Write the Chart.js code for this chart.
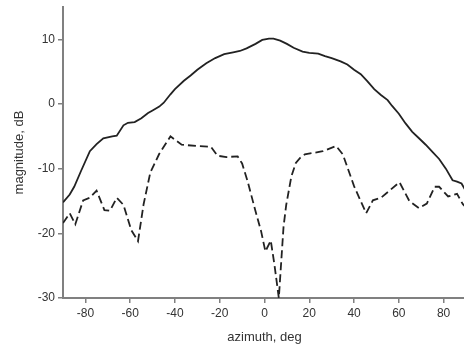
<!DOCTYPE html>
<html>
<head>
<meta charset="utf-8">
<script src="https://cdn.jsdelivr.net/npm/chart.js@4"></script>
<style>
  html, body { margin: 0; padding: 0; background: #fff; overflow: hidden; }
  #wrap { width: 468px; height: 349px; }
</style>
</head>
<body>
<div id="wrap"><canvas id="chart"></canvas></div>
<script>
// azimuth (deg) and magnitude (dB)
const solidAz  = [-90, -87, -85, -82, -78, -75, -72, -68, -66, -63, -61, -58, -55, -52, -50, -47, -45, -42, -40, -36, -33, -30, -26, -22, -18, -14, -11, -8, -4, -1, 2, 4, 7, 10, 13, 17, 20, 24, 27, 30, 34, 37, 40, 43, 46, 49, 52, 55, 57, 60, 63, 66, 69, 72, 75, 78, 81, 84, 86, 88, 90];
const solidMag = [-15.2, -14.0, -12.8, -10.4, -7.3, -6.2, -5.3, -5.0, -4.9, -3.3, -2.9, -2.8, -2.2, -1.4, -1.0, -0.4, 0.2, 1.5, 2.3, 3.6, 4.4, 5.3, 6.3, 7.1, 7.7, 8.0, 8.2, 8.6, 9.3, 9.9, 10.1, 10.1, 9.8, 9.3, 8.7, 8.1, 7.9, 7.8, 7.4, 7.1, 6.6, 6.1, 5.3, 4.6, 3.5, 2.3, 1.4, 0.6, -0.3, -1.5, -3.0, -4.3, -5.3, -6.3, -7.4, -8.5, -10.0, -11.8, -12.0, -12.3, -13.5];

const dashAz  = [-90, -87, -84.5, -81, -78, -75, -71.5, -69, -66, -63, -59.5, -56.5, -54, -51, -47, -42, -37, -30, -24, -21, -17, -12, -10, -7.5, -4, -1.5, 0.4, 2.8, 4.5, 6.4, 8.5, 9.7, 12, 14, 16, 18, 26, 32, 35, 40, 45.4, 48.4, 52, 60.3, 64.7, 69, 72.5, 76, 78, 82, 86, 88.6, 90];
const dashMag = [-18.4, -16.9, -18.6, -14.9, -14.5, -13.4, -16.4, -16.5, -14.5, -15.6, -19.5, -21.2, -15.5, -10.6, -7.7, -5.0, -6.3, -6.5, -6.6, -8.0, -8.2, -8.1, -9.2, -12.0, -16.6, -19.7, -22.8, -21.1, -25.0, -30.0, -19.0, -15.6, -11.2, -9.1, -8.3, -7.8, -7.3, -6.5, -7.8, -12.7, -16.9, -14.9, -14.5, -12.1, -15.0, -16.1, -15.4, -12.8, -12.8, -14.3, -13.9, -15.5, -16.0];

const xTicks = [-80, -60, -40, -20, 0, 20, 40, 60, 80];
const yTicks = [-30, -20, -10, 0, 10];

const toPoints = (xs, ys) => xs.map((x, i) => ({ x: x, y: ys[i] }));

const axisGray = '#808080';
const textColor = '#333';
const tickFont = { family: 'Liberation Sans, Arial, sans-serif', size: 12 };
const titleFont = { family: 'Liberation Sans, Arial, sans-serif', size: 13 };

new Chart(document.getElementById('chart'), {
    type: 'line',
    data: {
        datasets: [
            {
                label: 'solid',
                data: toPoints(solidAz, solidMag),
                borderColor: '#222',
                borderWidth: 1.8,
                pointRadius: 0,
                tension: 0,
            },
            {
                label: 'dashed',
                data: toPoints(dashAz, dashMag),
                borderColor: '#222',
                borderWidth: 1.8,
                borderDash: [8, 4],
                pointRadius: 0,
                tension: 0,
            },
        ],
    },
    options: {
        responsive: true,
        maintainAspectRatio: false,
        animation: false,
        layout: { padding: { top: 7, right: 2 } },
        plugins: {
            legend: { display: false },
            tooltip: { enabled: false },
        },
        scales: {
            x: {
                type: 'linear',
                min: -90,
                max: 90,
                afterBuildTicks: (s) => { s.ticks = xTicks.map(v => ({ value: v })); },
                afterFit: (s) => { s.height = 51; },
                border: { display: true, color: axisGray, width: 2 },
                grid: { drawOnChartArea: false, drawTicks: true, tickLength: 5, color: axisGray, lineWidth: 1.5 },
                ticks: { color: textColor, font: tickFont, padding: 3, maxRotation: 0 },
                title: { display: true, text: 'azimuth, deg', color: textColor, font: titleFont, padding: { top: 0, bottom: 4 } },
            },
            y: {
                type: 'linear',
                min: -30,
                max: 15,
                afterBuildTicks: (s) => { s.ticks = yTicks.map(v => ({ value: v })); },
                afterFit: (s) => { s.width = 63; s.paddingTop = 0; s.paddingBottom = 0; },
                border: { display: true, color: axisGray, width: 2 },
                grid: { drawOnChartArea: false, drawTicks: true, tickLength: 5, color: axisGray, lineWidth: 1.5 },
                ticks: { color: textColor, font: tickFont, padding: 3 },
                title: { display: true, text: 'magnitude, dB', color: textColor, font: titleFont, padding: { top: 12, bottom: 0 } },
            },
        },
    },
});
</script>
</body>
</html>
